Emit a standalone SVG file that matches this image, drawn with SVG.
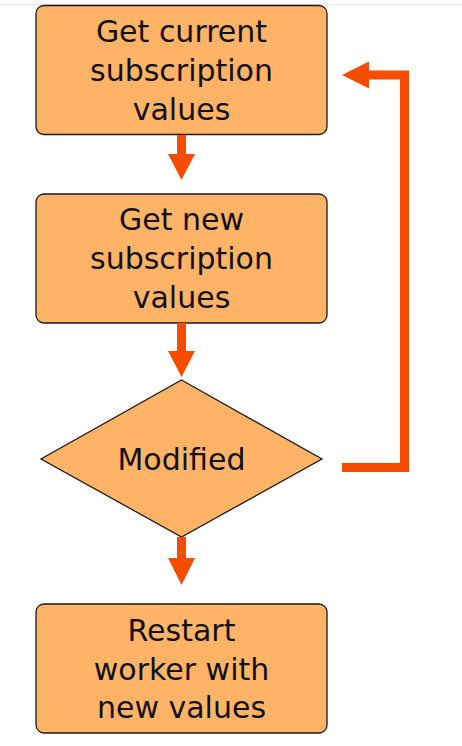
<svg xmlns="http://www.w3.org/2000/svg" width="462" height="746" viewBox="0 0 462 746">
<style>
.node{fill:#ffb366;stroke:#1a1a1a;stroke-width:1.3}
.t{font-family:"DejaVu Sans","Liberation Sans",sans-serif;font-size:30px;fill:#111;text-anchor:middle}
.c{stroke:#f54c00;stroke-width:9;fill:none}
.h{fill:#f54c00}
</style>
<rect width="462" height="746" fill="#fff"/>
<line x1="0" y1="4.5" x2="462" y2="4.5" stroke="#e6e6e6" stroke-width="1"/>
<g id="n1"><rect class="node" x="36" y="5.5" width="291" height="129" rx="8"/>
<text class="t" x="181.5" y="42">Get current</text><text class="t" x="181.5" y="81">subscription</text><text class="t" x="181.5" y="120">values</text></g>
<g id="n2"><rect class="node" x="36" y="194" width="291" height="129" rx="8"/>
<text class="t" x="181.5" y="230">Get new</text><text class="t" x="181.5" y="269">subscription</text><text class="t" x="181.5" y="308">values</text></g>
<g id="n3"><polygon class="node" points="181.5,380 322,459 181.5,537 41,459"/>
<text class="t" x="181.5" y="470">Modified</text></g>
<g id="n4"><rect class="node" x="36" y="604" width="291" height="129" rx="8"/>
<text class="t" x="181.5" y="641">Restart</text><text class="t" x="181.5" y="680">worker with</text><text class="t" x="181.5" y="718">new values</text></g>
<g id="connectors">
<line class="c" x1="181.5" y1="135" x2="181.5" y2="156"/><polygon class="h" points="168,154 195,154 181.5,180"/>
<line class="c" x1="181.5" y1="323" x2="181.5" y2="353"/><polygon class="h" points="168,351 195,351 181.5,377"/>
<line class="c" x1="181.5" y1="537" x2="181.5" y2="560"/><polygon class="h" points="168,558 195,558 181.5,585"/>
<polyline class="c" points="342,467.5 404.5,467.5 404.5,75 366,75"/><polygon class="h" points="342,75 369,61.5 369,88.5"/>
</g>
</svg>
